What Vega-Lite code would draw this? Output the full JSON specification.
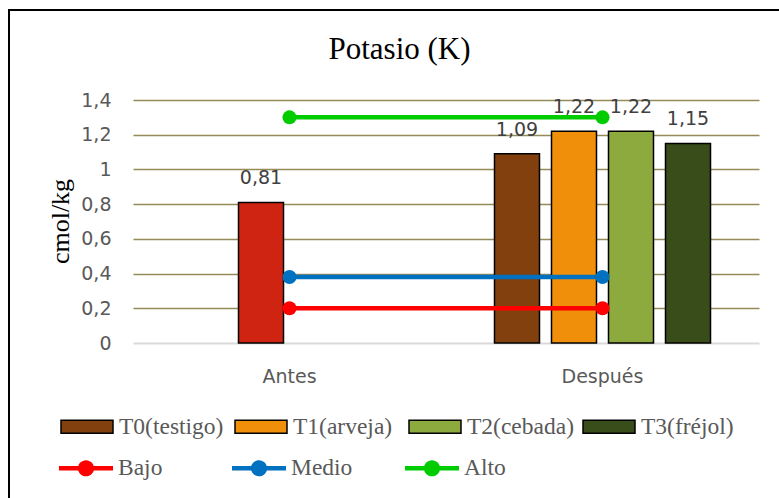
{
  "$schema": "https://vega.github.io/schema/vega-lite/v6.json",
  "width": 800,
  "height": 520,
  "autosize": {"type": "none"},
  "padding": {"left": 9, "top": 10, "right": -30, "bottom": -32},
  "background": "white",
  "config": {
    "locale": {"number": {"decimal": ",", "thousands": ".", "grouping": [3], "currency": ["", " €"]}},
    "view": {"stroke": "black", "strokeWidth": 2}
  },
  "title": {
    "text": "Potasio (K)",
    "font": "Liberation Serif",
    "fontSize": 31,
    "fontWeight": "normal",
    "color": "black",
    "anchor": "middle",
    "frame": "group",
    "baseline": "alphabetic",
    "offset": 0,
    "dy": 80,
    "dx": -9.5
  },
  "datasets": {
    "barras": [
      {"momento": "Antes", "grupo": "T1(arveja)", "serie": "Antes", "valor": 0.81},
      {"momento": "Después", "grupo": "T0(testigo)", "serie": "T0(testigo)", "valor": 1.09},
      {"momento": "Después", "grupo": "T1(arveja)", "serie": "T1(arveja)", "valor": 1.22},
      {"momento": "Después", "grupo": "T2(cebada)", "serie": "T2(cebada)", "valor": 1.22},
      {"momento": "Después", "grupo": "T3(fréjol)", "serie": "T3(fréjol)", "valor": 1.15}
    ],
    "lineas": [
      {"momento": "Antes", "nivel": "Bajo", "valor": 0.2},
      {"momento": "Después", "nivel": "Bajo", "valor": 0.2},
      {"momento": "Antes", "nivel": "Medio", "valor": 0.38},
      {"momento": "Después", "nivel": "Medio", "valor": 0.38},
      {"momento": "Antes", "nivel": "Alto", "valor": 1.3},
      {"momento": "Después", "nivel": "Alto", "valor": 1.3}
    ]
  },
  "encoding": {
    "x": {
      "field": "momento",
      "type": "nominal",
      "sort": ["Antes", "Después"],
      "scale": {"domain": ["Antes", "Después"], "range": [124, 750], "paddingInner": 0, "paddingOuter": 0},
      "axis": {
        "title": null,
        "orient": "bottom",
        "offset": -187,
        "domain": false,
        "ticks": false,
        "tickSize": 0,
        "grid": false,
        "labelAngle": 0,
        "labelPadding": 39,
        "labelBaseline": "alphabetic",
        "labelFont": "DejaVu Sans",
        "labelFontSize": 19,
        "labelColor": "#595959"
      }
    },
    "y": {
      "field": "valor",
      "type": "quantitative",
      "scale": {"domain": [0, 1.4], "range": [333, 90], "nice": false, "zero": true},
      "axis": {
        "title": "cmol/kg",
        "titleFont": "Liberation Serif",
        "titleFontSize": 26,
        "titleFontWeight": "normal",
        "titleColor": "black",
        "titleX": 51,
        "titleY": 211,
        "titleAngle": -90,
        "titleAlign": "center",
        "titleBaseline": "middle",
        "values": [0, 0.2, 0.4, 0.6, 0.8, 1, 1.2, 1.4],
        "format": ".1~f",
        "domain": false,
        "ticks": false,
        "tickSize": 0,
        "labelPadding": -102,
        "labelAlign": "right",
        "labelBaseline": "middle",
        "labelFont": "DejaVu Sans",
        "labelFontSize": 19,
        "labelColor": "#595959",
        "grid": true,
        "gridColor": {"condition": {"test": "datum.value === 0", "value": "#d9d9d9"}, "value": "#958b58"},
        "gridWidth": {"condition": {"test": "datum.value === 0", "value": 2}, "value": 1.6}
      }
    }
  },
  "layer": [
    {
      "data": {"name": "barras"},
      "mark": {"type": "bar", "stroke": "black", "strokeWidth": 1.5},
      "encoding": {
        "xOffset": {
          "field": "grupo",
          "type": "nominal",
          "scale": {"domain": ["T0(testigo)", "T1(arveja)", "T2(cebada)", "T3(fréjol)"], "paddingInner": 0.2105, "paddingOuter": 0.8508}
        },
        "fill": {
          "field": "serie",
          "type": "nominal",
          "scale": {
            "domain": ["Antes", "T0(testigo)", "T1(arveja)", "T2(cebada)", "T3(fréjol)"],
            "range": ["#cf2412", "#82400e", "#ef8f0a", "#8caa3d", "#384d1a"]
          },
          "legend": {
            "values": ["T0(testigo)", "T1(arveja)", "T2(cebada)", "T3(fréjol)"],
            "title": null,
            "orient": "none",
            "legendX": 51,
            "legendY": 389.5,
            "direction": "horizontal",
            "columns": 4,
            "gridAlign": "all",
            "columnPadding": 6,
            "padding": 0,
            "symbolType": "M-1,-0.25H1V0.25H-1Z",
            "symbolSize": 2704,
            "symbolStrokeColor": "black",
            "symbolStrokeWidth": 1.5,
            "labelOffset": 5,
            "labelFont": "Liberation Serif",
            "labelFontSize": 23.5,
            "labelColor": "#595959",
            "labelLimit": 300
          }
        }
      }
    },
    {
      "data": {"name": "barras"},
      "mark": {"type": "text", "font": "DejaVu Sans", "fontSize": 19, "color": "#404040", "baseline": "alphabetic", "align": "center", "dy": -18},
      "encoding": {
        "xOffset": {"field": "grupo", "type": "nominal"},
        "text": {"field": "valor", "type": "quantitative", "format": ".2f"}
      }
    },
    {
      "data": {"name": "lineas"},
      "mark": {"type": "line", "strokeWidth": 4.5},
      "encoding": {
        "color": {
          "field": "nivel",
          "type": "nominal",
          "scale": {"domain": ["Bajo", "Medio", "Alto"], "range": ["#ff0000", "#0070c0", "#00cc00"]},
          "legend": {
            "title": null,
            "orient": "none",
            "legendX": 50,
            "legendY": 431,
            "direction": "horizontal",
            "columns": 3,
            "gridAlign": "all",
            "columnPadding": 52,
            "padding": 0,
            "symbolType": "M-1,-0.08H1V0.08H-1Z M-0.3,0A0.3,0.3 0 1 1 0.3,0A0.3,0.3 0 1 1 -0.3,0Z",
            "symbolSize": 2916,
            "symbolStrokeWidth": 0,
            "symbolOpacity": 1,
            "labelOffset": 5,
            "labelFont": "Liberation Serif",
            "labelFontSize": 23.5,
            "labelColor": "#595959",
            "labelLimit": 300,
            "encode": {"symbols": {"update": {"fill": {"scale": "color", "field": "value"}, "stroke": {"value": "transparent"}}}}
          }
        }
      }
    },
    {
      "data": {"name": "lineas"},
      "mark": {"type": "point", "filled": true, "shape": "circle", "size": 196, "opacity": 1},
      "encoding": {
        "color": {"field": "nivel", "type": "nominal"}
      }
    }
  ]
}
